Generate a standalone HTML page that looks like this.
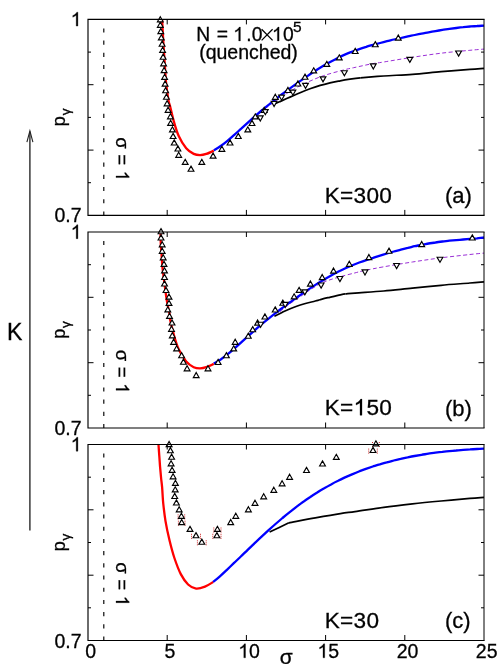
<!DOCTYPE html>
<html><head><meta charset="utf-8"><title>p_gamma vs sigma</title>
<style>
html,body{margin:0;padding:0;background:#fff;}
body{width:498px;height:664px;overflow:hidden;position:relative;font-family:"Liberation Sans",sans-serif;}
</style></head><body>
<svg width="498" height="664" viewBox="0 0 498 664" style="position:absolute;left:0;top:0">
<rect x="0" y="0" width="498" height="664" fill="#fff"/>
<g>
<clipPath id="cp0"><rect x="88.0" y="13.4" width="396.0" height="208.0"/></clipPath>
<path d="M103.8 28.4 V215.4" stroke="#000" stroke-width="1.15" stroke-dasharray="4.1 8.1" fill="none"/>
<path d="M275.1 103.8 C275.9 103.4 277.5 102.7 280.0 101.6 C282.5 100.5 286.6 98.6 290.0 97.1 C293.4 95.6 296.8 94.1 300.1 92.7 C303.4 91.3 306.6 90.0 310.0 88.8 C313.4 87.6 316.9 86.4 320.2 85.4 C323.5 84.4 326.7 83.6 330.0 82.8 C333.3 82.0 336.9 81.4 340.2 80.8 C343.5 80.2 346.6 79.7 350.0 79.2 C353.4 78.7 358.6 78.0 360.3 77.8" stroke="#000" stroke-width="1.7" fill="none" stroke-linejoin="round"/>
<path d="M360.3 77.8 C364.2 77.5 375.0 76.6 383.7 76.0 C392.4 75.4 402.8 75.0 412.4 74.3 C422.0 73.6 431.5 72.5 441.1 71.7 C450.7 70.9 462.8 70.0 469.9 69.4 C477.0 68.8 481.6 68.5 484.0 68.3" stroke="#000" stroke-width="1.7" fill="none" stroke-linejoin="round"/>
<path d="M245.2 125.5 C246.5 124.3 250.2 120.8 253.2 118.2 C256.2 115.7 259.7 112.9 263.1 110.2 C266.6 107.5 270.8 104.4 273.9 102.2 C276.9 100.0 278.3 99.1 281.4 97.0 C284.5 94.9 288.7 92.1 292.7 89.8 C296.7 87.5 300.2 85.5 305.3 83.2 C310.4 80.9 316.7 78.0 323.2 75.8 C329.7 73.6 339.0 71.2 344.3 69.8 C349.6 68.4 350.3 68.4 355.0 67.4 C359.7 66.4 367.6 64.6 372.4 63.7 C377.2 62.8 377.0 63.1 383.7 62.0 C390.4 60.9 402.8 58.8 412.4 57.3 C422.0 55.8 431.5 54.4 441.1 53.2 C450.7 52.0 462.8 51.0 469.9 50.3 C477.0 49.6 481.6 49.3 484.0 49.1" stroke="#9a2fd6" stroke-width="1" stroke-dasharray="4 2.5" fill="none"/>
<path d="M213.8 150.3 C215.0 149.6 218.4 147.7 220.7 146.0 C223.0 144.4 225.3 142.5 227.7 140.6 C230.0 138.7 232.3 136.6 234.6 134.6 C236.9 132.6 239.2 130.4 241.5 128.4 C243.8 126.3 246.1 124.2 248.4 122.1 C250.8 120.0 253.1 117.9 255.4 115.9 C257.7 113.9 260.0 111.9 262.3 110.0 C264.6 108.0 266.9 106.1 269.2 104.3 C271.5 102.4 273.8 100.6 276.2 98.8 C278.5 97.0 280.8 95.3 283.1 93.5 C285.4 91.8 287.7 90.1 290.0 88.4 C292.3 86.7 294.6 85.0 296.9 83.4 C299.2 81.7 301.6 80.1 303.9 78.5 C306.2 76.9 308.5 75.4 310.8 73.8 C313.1 72.3 315.4 70.8 317.7 69.3 C320.0 67.9 322.3 66.5 324.7 65.1 C327.0 63.8 329.3 62.4 331.6 61.2 C333.9 60.0 336.2 58.8 338.5 57.6 C340.8 56.5 343.1 55.4 345.4 54.4 C347.7 53.4 350.1 52.5 352.4 51.6 C354.7 50.7 357.0 49.9 359.3 49.1 C361.6 48.3 363.9 47.6 366.2 46.9 C368.5 46.1 370.8 45.5 373.1 44.8 C375.5 44.2 377.8 43.6 380.1 43.0 C382.4 42.4 384.7 41.8 387.0 41.2 C389.3 40.6 391.6 40.1 393.9 39.5 C396.2 39.0 398.6 38.5 400.9 38.0 C403.2 37.4 405.5 36.9 407.8 36.4 C410.1 35.9 412.4 35.5 414.7 35.0 C417.0 34.5 419.3 34.0 421.6 33.6 C424.0 33.2 426.3 32.7 428.6 32.3 C430.9 31.9 433.2 31.5 435.5 31.1 C437.8 30.7 440.1 30.3 442.4 29.9 C444.7 29.6 447.0 29.2 449.4 28.9 C451.7 28.6 454.0 28.3 456.3 28.0 C458.6 27.7 460.9 27.4 463.2 27.2 C465.5 26.9 467.8 26.7 470.1 26.5 C472.5 26.3 474.8 26.1 477.1 26.0 C479.4 25.8 482.8 25.7 484.0 25.6" stroke="#0000ff" stroke-width="2.3" fill="none"/>
<path d="M162.1 19.3 C162.3 22.8 162.8 33.2 163.2 40.0 C163.6 46.8 164.0 52.8 164.5 60.0 C165.0 67.2 165.4 76.3 166.1 83.0 C166.8 89.7 167.8 96.2 168.4 100.0 C169.0 103.8 169.0 102.1 169.9 105.5 C170.8 108.9 172.2 115.5 173.6 120.6 C175.0 125.6 176.5 131.2 178.6 135.8 C180.7 140.4 183.7 145.3 186.2 148.3 C188.7 151.3 191.4 152.8 193.7 153.9 C196.0 155.0 197.9 155.1 200.0 155.1 C202.1 155.1 204.0 154.7 206.3 153.9 C208.6 153.2 212.6 151.2 213.8 150.6" stroke="#ff0000" stroke-width="2.3" fill="none"/>
<path d="M160.3 16.7 L163.2 21.8 L157.4 21.8 Z M160.3 22.2 L163.2 27.3 L157.4 27.3 Z M160.8 28.5 L163.7 33.6 L157.9 33.6 Z M161.3 34.8 L164.2 39.9 L158.4 39.9 Z M162.1 41.1 L165.0 46.2 L159.2 46.2 Z M162.6 47.3 L165.5 52.4 L159.7 52.4 Z M163.1 54.1 L166.0 59.2 L160.2 59.2 Z M163.6 60.7 L166.5 65.8 L160.7 65.8 Z M164.1 67.5 L167.0 72.6 L161.2 72.6 Z M164.6 74.3 L167.5 79.4 L161.7 79.4 Z M165.1 81.0 L168.0 86.1 L162.2 86.1 Z M165.6 87.6 L168.5 92.7 L162.7 92.7 Z M166.4 94.1 L169.3 99.2 L163.5 99.2 Z M167.1 100.7 L170.0 105.8 L164.2 105.8 Z M168.1 107.2 L171.0 112.3 L165.2 112.3 Z M170.4 113.7 L173.3 118.8 L167.5 118.8 Z M170.6 120.3 L173.5 125.4 L167.7 125.4 Z M172.4 126.8 L175.3 131.9 L169.5 131.9 Z M173.1 133.4 L176.0 138.5 L170.2 138.5 Z M174.2 139.9 L177.1 145.0 L171.3 145.0 Z M177.9 145.9 L180.8 151.0 L175.0 151.0 Z M178.7 152.2 L181.6 157.3 L175.8 157.3 Z M185.2 159.3 L188.1 164.4 L182.3 164.4 Z M191.0 166.1 L193.9 171.2 L188.1 171.2 Z M201.8 159.3 L204.7 164.4 L198.9 164.4 Z M213.1 153.0 L216.0 158.1 L210.2 158.1 Z M221.9 146.2 L224.8 151.3 L219.0 151.3 Z M230.0 139.9 L232.9 145.0 L227.1 145.0 Z M238.3 133.4 L241.2 138.5 L235.4 138.5 Z M247.8 126.8 L250.7 131.9 L244.9 131.9 Z M252.0 120.4 L254.9 125.5 L249.1 125.5 Z M255.3 113.8 L258.2 118.9 L252.4 118.9 Z M264.2 107.4 L267.1 112.5 L261.3 112.5 Z M275.3 94.2 L278.2 99.3 L272.4 99.3 Z M287.9 87.4 L290.8 92.5 L285.0 92.5 Z M297.9 80.9 L300.8 86.0 L295.0 86.0 Z M305.0 74.1 L307.9 79.2 L302.1 79.2 Z M313.7 67.8 L316.6 72.9 L310.8 72.9 Z M326.8 61.3 L329.7 66.4 L323.9 66.4 Z M339.3 54.8 L342.2 59.9 L336.4 59.9 Z M355.2 48.4 L358.1 53.5 L352.3 53.5 Z M375.3 41.6 L378.2 46.7 L372.4 46.7 Z M398.3 35.0 L401.2 40.1 L395.4 40.1 Z" stroke="#000" stroke-width="1.15" fill="#fff" stroke-linejoin="miter"/>
<path d="M260.3 121.0 L263.2 115.9 L257.4 115.9 Z M265.3 114.7 L268.2 109.6 L262.4 109.6 Z M274.1 106.5 L277.0 101.4 L271.2 101.4 Z M281.6 100.2 L284.5 95.1 L278.7 95.1 Z M292.9 95.2 L295.8 90.1 L290.0 90.1 Z M305.5 88.4 L308.4 83.3 L302.6 83.3 Z M323.0 81.9 L325.9 76.8 L320.1 76.8 Z M344.4 75.8 L347.3 70.7 L341.5 70.7 Z M373.3 69.0 L376.2 63.9 L370.4 63.9 Z M409.8 62.4 L412.7 57.3 L406.9 57.3 Z M458.6 56.1 L461.5 51.0 L455.7 51.0 Z" stroke="#000" stroke-width="1.15" fill="#fff" stroke-linejoin="miter"/>
<path d="M484.0 19.4 H88.0 V215.4 H484.0" fill="none" stroke="#000" stroke-width="1.15" stroke-linecap="square"/>
<path d="M484.0 19.4 V215.4" fill="none" stroke="#000" stroke-width="1.0"/>
<path d="M167.2 215.4 v-5.5 M167.2 19.4 v5 M246.4 215.4 v-5.5 M246.4 19.4 v5 M325.6 215.4 v-5.5 M325.6 19.4 v5 M404.8 215.4 v-5.5 M404.8 19.4 v5 M88.0 52.1 h3.0 M484.0 52.1 h-3.0 M88.0 84.7 h5.5 M484.0 84.7 h-5.5 M88.0 117.4 h3.0 M484.0 117.4 h-3.0 M88.0 150.1 h5.5 M484.0 150.1 h-5.5 M88.0 182.7 h3.0 M484.0 182.7 h-3.0" stroke="#000" stroke-width="1.0" fill="none"/>
</g>
<g>
<clipPath id="cp1"><rect x="88.0" y="226.0" width="396.0" height="208.0"/></clipPath>
<path d="M103.8 241.0 V428.0" stroke="#000" stroke-width="1.15" stroke-dasharray="4.1 8.1" fill="none"/>
<path d="M274.4 316.3 C275.7 315.6 279.4 313.7 282.0 312.4 C284.6 311.1 286.7 310.0 290.2 308.7 C293.7 307.4 298.6 305.6 302.8 304.3 C307.0 303.0 312.4 301.8 315.3 301.0 C318.2 300.2 317.9 300.4 320.0 299.8 C322.1 299.2 324.5 298.5 327.9 297.7 C331.3 296.9 337.5 295.4 340.4 294.8 C343.3 294.2 344.6 294.0 345.4 293.9" stroke="#000" stroke-width="1.7" fill="none" stroke-linejoin="round"/>
<path d="M345.4 293.9 C347.0 293.8 348.6 293.6 355.0 293.1 C361.4 292.6 374.1 291.8 383.7 291.0 C393.3 290.2 402.8 289.1 412.4 288.2 C422.0 287.2 431.5 286.2 441.1 285.3 C450.7 284.4 462.8 283.6 469.9 283.0 C477.0 282.4 481.6 282.1 484.0 281.9" stroke="#000" stroke-width="1.7" fill="none" stroke-linejoin="round"/>
<path d="M280.0 311.6 C281.7 310.3 286.7 306.2 290.0 303.7 C293.3 301.2 296.7 299.1 300.0 296.8 C303.3 294.5 306.5 292.1 310.0 289.9 C313.5 287.6 317.8 285.0 321.1 283.3 C324.4 281.6 326.8 280.9 330.0 279.8 C333.2 278.7 336.1 277.9 340.3 276.7 C344.5 275.5 350.9 273.9 355.0 272.9 C359.1 271.8 360.4 271.4 365.2 270.4 C370.0 269.4 375.8 268.2 383.7 266.8 C391.6 265.4 402.8 263.5 412.4 262.0 C422.0 260.5 431.5 259.1 441.1 257.8 C450.7 256.6 462.8 255.3 469.9 254.5 C477.0 253.7 481.6 253.3 484.0 253.1" stroke="#9a2fd6" stroke-width="1" stroke-dasharray="4 2.5" fill="none"/>
<path d="M213.8 363.6 C215.0 362.9 218.4 361.0 220.7 359.5 C223.0 357.9 225.3 356.1 227.7 354.2 C230.0 352.3 232.3 350.3 234.6 348.3 C236.9 346.3 239.2 344.2 241.5 342.1 C243.8 340.0 246.1 337.9 248.4 335.8 C250.8 333.7 253.1 331.7 255.4 329.7 C257.7 327.6 260.0 325.7 262.3 323.7 C264.6 321.8 266.9 319.9 269.2 318.1 C271.5 316.2 273.8 314.4 276.2 312.6 C278.5 310.9 280.8 309.1 283.1 307.4 C285.4 305.7 287.7 304.0 290.0 302.3 C292.3 300.7 294.6 299.0 296.9 297.4 C299.2 295.8 301.6 294.1 303.9 292.6 C306.2 291.0 308.5 289.4 310.8 287.9 C313.1 286.4 315.4 284.9 317.7 283.4 C320.0 282.0 322.3 280.5 324.7 279.2 C327.0 277.8 329.3 276.5 331.6 275.2 C333.9 273.9 336.2 272.7 338.5 271.5 C340.8 270.4 343.1 269.3 345.4 268.2 C347.7 267.2 350.1 266.2 352.4 265.2 C354.7 264.3 357.0 263.4 359.3 262.5 C361.6 261.7 363.9 260.9 366.2 260.1 C368.5 259.3 370.8 258.5 373.1 257.8 C375.5 257.0 377.8 256.3 380.1 255.6 C382.4 254.9 384.7 254.2 387.0 253.5 C389.3 252.8 391.6 252.1 393.9 251.5 C396.2 250.9 398.6 250.2 400.9 249.6 C403.2 249.0 405.5 248.4 407.8 247.9 C410.1 247.3 412.4 246.8 414.7 246.2 C417.0 245.7 419.3 245.3 421.6 244.8 C424.0 244.4 426.3 243.9 428.6 243.5 C430.9 243.2 433.2 242.8 435.5 242.5 C437.8 242.1 440.1 241.8 442.4 241.5 C444.7 241.2 447.0 241.0 449.4 240.7 C451.7 240.5 454.0 240.3 456.3 240.1 C458.6 239.9 460.9 239.7 463.2 239.5 C465.5 239.3 467.8 239.1 470.1 238.9 C472.5 238.7 474.8 238.5 477.1 238.3 C479.4 238.0 482.8 237.7 484.0 237.5" stroke="#0000ff" stroke-width="2.3" fill="none"/>
<path d="M160.5 232.0 C160.6 233.9 160.6 239.8 160.8 243.6 C161.0 247.4 161.3 251.2 161.6 255.0 C161.9 258.9 162.1 263.4 162.4 266.7 C162.7 270.0 163.1 272.3 163.4 275.0 C163.7 277.7 163.9 279.3 164.4 282.9 C164.9 286.5 165.6 292.4 166.2 296.5 C166.8 300.6 167.5 304.4 168.1 307.3 C168.7 310.2 169.2 311.9 169.5 313.8 C169.8 315.7 169.2 315.5 169.9 318.8 C170.6 322.1 172.2 328.8 173.6 333.9 C175.0 338.9 176.5 344.5 178.6 349.1 C180.7 353.7 183.7 358.6 186.2 361.6 C188.7 364.6 191.4 366.1 193.7 367.2 C196.0 368.3 197.9 368.4 200.0 368.4 C202.1 368.4 204.0 368.0 206.3 367.2 C208.6 366.5 212.6 364.4 213.8 363.9" stroke="#ff0000" stroke-width="2.3" fill="none"/>
<path d="M161.0 228.6 L163.9 233.7 L158.1 233.7 Z M161.0 234.9 L163.9 240.0 L158.1 240.0 Z M162.2 241.7 L165.1 246.8 L159.3 246.8 Z M162.2 248.2 L165.1 253.3 L159.3 253.3 Z M163.2 254.7 L166.1 259.8 L160.3 259.8 Z M164.0 261.3 L166.9 266.4 L161.1 266.4 Z M164.5 267.8 L167.4 272.9 L161.6 272.9 Z M164.5 274.4 L167.4 279.5 L161.6 279.5 Z M164.5 280.9 L167.4 286.0 L161.6 286.0 Z M166.0 287.4 L168.9 292.5 L163.1 292.5 Z M169.0 294.0 L171.9 299.1 L166.1 299.1 Z M169.0 300.3 L171.9 305.4 L166.1 305.4 Z M167.8 306.8 L170.7 311.9 L164.9 311.9 Z M169.5 313.3 L172.4 318.4 L166.6 318.4 Z M172.0 319.9 L174.9 325.0 L169.1 325.0 Z M171.5 326.2 L174.4 331.3 L168.6 331.3 Z M172.3 332.7 L175.2 337.8 L169.4 337.8 Z M173.6 339.2 L176.5 344.3 L170.7 344.3 Z M176.6 345.8 L179.5 350.9 L173.7 350.9 Z M181.6 352.6 L184.5 357.7 L178.7 357.7 Z M183.4 359.1 L186.3 364.2 L180.5 364.2 Z M187.1 365.7 L190.0 370.8 L184.2 370.8 Z M196.2 372.5 L199.1 377.6 L193.3 377.6 Z M208.0 365.7 L210.9 370.8 L205.1 370.8 Z M218.1 359.4 L221.0 364.5 L215.2 364.5 Z M226.4 352.6 L229.3 357.7 L223.5 357.7 Z M233.7 345.8 L236.6 350.9 L230.8 350.9 Z M235.2 339.2 L238.1 344.3 L232.3 344.3 Z M248.3 333.1 L251.2 338.2 L245.4 338.2 Z M252.7 326.6 L255.6 331.7 L249.8 331.7 Z M257.6 320.0 L260.5 325.1 L254.7 325.1 Z M264.9 313.9 L267.8 319.0 L262.0 319.0 Z M275.2 306.9 L278.1 312.0 L272.3 312.0 Z M282.8 300.1 L285.7 305.2 L279.9 305.2 Z M294.1 293.8 L297.0 298.9 L291.2 298.9 Z M299.1 287.3 L302.0 292.4 L296.2 292.4 Z M310.4 281.0 L313.3 286.1 L307.5 286.1 Z M322.2 274.5 L325.1 279.6 L319.3 279.6 Z M333.5 268.0 L336.4 273.1 L330.6 273.1 Z M349.3 261.2 L352.2 266.3 L346.4 266.3 Z M368.9 254.5 L371.8 259.6 L366.0 259.6 Z M389.0 248.1 L391.9 253.2 L386.1 253.2 Z M421.7 241.5 L424.6 246.6 L418.8 246.6 Z M472.3 234.9 L475.2 240.0 L469.4 240.0 Z" stroke="#000" stroke-width="1.15" fill="#fff" stroke-linejoin="miter"/>
<path d="M260.6 327.3 L263.5 322.2 L257.7 322.2 Z M285.2 307.5 L288.1 302.4 L282.3 302.4 Z M304.8 294.9 L307.7 289.8 L301.9 289.8 Z M321.1 288.1 L324.0 283.0 L318.2 283.0 Z M339.9 281.6 L342.8 276.5 L337.0 276.5 Z M365.0 275.0 L367.9 269.9 L362.1 269.9 Z M396.6 268.6 L399.5 263.5 L393.7 263.5 Z M440.0 262.3 L442.9 257.2 L437.1 257.2 Z" stroke="#000" stroke-width="1.15" fill="#fff" stroke-linejoin="miter"/>
<path d="M484.0 232.0 H88.0 V428.0 H484.0" fill="none" stroke="#000" stroke-width="1.15" stroke-linecap="square"/>
<path d="M484.0 232.0 V428.0" fill="none" stroke="#000" stroke-width="1.0"/>
<path d="M167.2 428.0 v-5.5 M167.2 232.0 v5 M246.4 428.0 v-5.5 M246.4 232.0 v5 M325.6 428.0 v-5.5 M325.6 232.0 v5 M404.8 428.0 v-5.5 M404.8 232.0 v5 M88.0 264.7 h3.0 M484.0 264.7 h-3.0 M88.0 297.3 h5.5 M484.0 297.3 h-5.5 M88.0 330.0 h3.0 M484.0 330.0 h-3.0 M88.0 362.7 h5.5 M484.0 362.7 h-5.5 M88.0 395.3 h3.0 M484.0 395.3 h-3.0" stroke="#000" stroke-width="1.0" fill="none"/>
</g>
<g>
<clipPath id="cp2"><rect x="88.0" y="438.5" width="396.0" height="208.0"/></clipPath>
<path d="M103.8 453.5 V640.5" stroke="#000" stroke-width="1.15" stroke-dasharray="4.1 8.1" fill="none"/>
<path d="M269.6 532.1 C272.8 530.5 285.7 524.3 288.9 522.8" stroke="#000" stroke-width="1.7" fill="none" stroke-linejoin="round"/>
<path d="M288.9 522.8 C293.3 522.0 306.7 519.3 315.3 517.8 C323.9 516.3 333.8 514.6 340.4 513.6 C347.0 512.6 347.8 512.6 355.0 511.6 C362.2 510.6 374.1 508.7 383.7 507.4 C393.3 506.1 402.8 505.0 412.4 503.9 C422.0 502.8 431.5 501.9 441.1 501.0 C450.7 500.1 462.8 499.0 469.9 498.4 C477.0 497.8 481.6 497.5 484.0 497.3" stroke="#000" stroke-width="1.7" fill="none" stroke-linejoin="round"/>
<path d="M213.0 582.1 C214.2 581.1 217.6 578.4 219.9 576.3 C222.3 574.3 224.6 572.0 226.9 569.8 C229.2 567.6 231.5 565.4 233.8 563.2 C236.2 561.0 238.5 558.7 240.8 556.5 C243.1 554.3 245.4 552.0 247.7 549.8 C250.1 547.6 252.4 545.3 254.7 543.1 C257.0 540.9 259.3 538.7 261.6 536.6 C264.0 534.4 266.3 532.3 268.6 530.2 C270.9 528.1 273.2 526.0 275.5 524.0 C277.9 522.0 280.2 520.0 282.5 518.0 C284.8 516.1 287.1 514.2 289.4 512.3 C291.8 510.5 294.1 508.7 296.4 506.9 C298.7 505.2 301.0 503.4 303.3 501.8 C305.6 500.1 308.0 498.5 310.3 497.0 C312.6 495.4 314.9 493.9 317.2 492.5 C319.5 491.0 321.9 489.6 324.2 488.3 C326.5 486.9 328.8 485.6 331.1 484.4 C333.4 483.1 335.8 481.9 338.1 480.8 C340.4 479.6 342.7 478.5 345.0 477.4 C347.3 476.4 349.7 475.4 352.0 474.4 C354.3 473.4 356.6 472.4 358.9 471.5 C361.2 470.6 363.6 469.8 365.9 468.9 C368.2 468.1 370.5 467.3 372.8 466.5 C375.1 465.8 377.5 465.0 379.8 464.4 C382.1 463.7 384.4 463.0 386.7 462.4 C389.0 461.7 391.4 461.1 393.7 460.5 C396.0 459.9 398.3 459.4 400.6 458.9 C402.9 458.3 405.2 457.8 407.6 457.4 C409.9 456.9 412.2 456.4 414.5 456.0 C416.8 455.6 419.1 455.2 421.5 454.8 C423.8 454.4 426.1 454.1 428.4 453.7 C430.7 453.4 433.0 453.0 435.4 452.7 C437.7 452.4 440.0 452.1 442.3 451.9 C444.6 451.6 446.9 451.3 449.3 451.1 C451.6 450.9 453.9 450.7 456.2 450.5 C458.5 450.2 460.8 450.1 463.2 449.9 C465.5 449.7 467.8 449.5 470.1 449.4 C472.4 449.2 474.7 449.1 477.1 449.0 C479.4 448.9 482.8 448.7 484.0 448.7" stroke="#0000ff" stroke-width="2.3" fill="none"/>
<path d="M158.5 444.5 C158.6 446.4 159.0 452.2 159.3 456.0 C159.6 459.8 159.8 463.6 160.1 467.1 C160.4 470.6 160.7 473.6 161.0 477.0 C161.3 480.4 161.7 482.7 162.1 487.2 C162.5 491.7 162.7 498.4 163.3 504.0 C163.9 509.6 164.5 515.1 165.5 521.1 C166.5 527.1 168.0 534.1 169.5 540.3 C171.0 546.4 172.5 552.4 174.4 558.0 C176.3 563.6 178.5 569.7 180.8 574.1 C183.1 578.5 185.6 582.1 188.1 584.5 C190.6 586.9 193.3 588.2 196.1 588.6 C198.9 589.0 202.2 587.7 205.0 586.6 C207.8 585.5 211.7 582.9 213.0 582.1" stroke="#ff0000" stroke-width="2.3" fill="none"/>
<path d="M191.5 533.8 v5.2 M200.5 533.8 v5.2 M197.4 540.3 v5.2 M206.2 540.3 v5.2 M212.8 533.8 v5.2 M221.0 533.8 v5.2 M213.8 527.5 v5.2 M221.0 527.5 v5.2 M178.1 514.4 v5.2 M184.7 514.4 v5.2 M178.4 520.7 v5.2 M185.0 520.7 v5.2 M368.7 448.6 v5.2 M377.3 448.6 v5.2 M372.5 442.0 v5.2 M379.3 442.0 v5.2" stroke="#c81010" stroke-width="0.9" stroke-dasharray="1 1" fill="none"/>
<path d="M169.1 441.5 L172.0 446.6 L166.2 446.6 Z M170.4 447.6 L173.3 452.7 L167.5 452.7 Z M171.6 454.1 L174.5 459.2 L168.7 459.2 Z M171.1 460.7 L174.0 465.8 L168.2 465.8 Z M172.1 467.2 L175.0 472.3 L169.2 472.3 Z M173.1 473.7 L176.0 478.8 L170.2 478.8 Z M175.4 480.3 L178.3 485.4 L172.5 485.4 Z M175.2 486.8 L178.1 491.9 L172.3 491.9 Z M174.7 493.4 L177.6 498.5 L171.8 498.5 Z M176.4 499.9 L179.3 505.0 L173.5 505.0 Z M179.2 506.7 L182.1 511.8 L176.3 511.8 Z M181.4 513.2 L184.3 518.3 L178.5 518.3 Z M181.7 519.5 L184.6 524.6 L178.8 524.6 Z M190.0 526.3 L192.9 531.4 L187.1 531.4 Z M196.0 532.6 L198.9 537.7 L193.1 537.7 Z M201.8 539.1 L204.7 544.2 L198.9 544.2 Z M216.9 532.6 L219.8 537.7 L214.0 537.7 Z M217.4 526.3 L220.3 531.4 L214.5 531.4 Z M230.7 519.5 L233.6 524.6 L227.8 524.6 Z M235.8 513.2 L238.7 518.3 L232.9 518.3 Z M248.4 506.7 L251.3 511.8 L245.5 511.8 Z M255.0 500.2 L257.9 505.3 L252.1 505.3 Z M263.7 493.7 L266.6 498.8 L260.8 498.8 Z M273.8 487.2 L276.7 492.3 L270.9 492.3 Z M282.1 480.7 L285.0 485.8 L279.2 485.8 Z M289.6 474.2 L292.5 479.3 L286.7 479.3 Z M306.5 467.4 L309.4 472.5 L303.6 472.5 Z M322.5 460.9 L325.4 466.0 L319.6 466.0 Z M336.3 454.3 L339.2 459.4 L333.4 459.4 Z M373.0 447.4 L375.9 452.5 L370.1 452.5 Z M375.9 440.8 L378.8 445.9 L373.0 445.9 Z" stroke="#000" stroke-width="1.15" fill="#fff" stroke-linejoin="miter"/>
<path d="M484.0 444.5 H88.0 V640.5 H484.0" fill="none" stroke="#000" stroke-width="1.15" stroke-linecap="square"/>
<path d="M484.0 444.5 V640.5" fill="none" stroke="#000" stroke-width="1.0"/>
<path d="M167.2 640.5 v-5.5 M167.2 444.5 v5 M246.4 640.5 v-5.5 M246.4 444.5 v5 M325.6 640.5 v-5.5 M325.6 444.5 v5 M404.8 640.5 v-5.5 M404.8 444.5 v5 M88.0 477.2 h3.0 M484.0 477.2 h-3.0 M88.0 509.8 h5.5 M484.0 509.8 h-5.5 M88.0 542.5 h3.0 M484.0 542.5 h-3.0 M88.0 575.2 h5.5 M484.0 575.2 h-5.5 M88.0 607.8 h3.0 M484.0 607.8 h-3.0" stroke="#000" stroke-width="1.0" fill="none"/>
</g>
<path d="M29.9 530.6 V131.5" stroke="#222" stroke-width="1.35" fill="none"/>
<path d="M26.9 142.2 L29.9 130.9 L32.9 142.2" stroke="#222" stroke-width="1.1" fill="none" stroke-linejoin="miter"/>
<g style="opacity:0.999" stroke="#000" stroke-width="0.3">
<g transform="translate(81.50 26.10) translate(-10.85 0)"><path transform="translate(0.00 0) scale(0.00952 -0.00952)" d="M763 0H583V1147Q518 1085 412.5 1023T223 930V1104Q373 1174.5 485 1274.5T644 1466H763Z" fill="#000" stroke-width="31.5"/></g>
<text transform="translate(81.50 222.40)" font-size="19.50" text-anchor="end" font-family="Liberation Sans, sans-serif" fill="#000" >0.7</text>
<g transform="translate(81.50 238.70) translate(-10.85 0)"><path transform="translate(0.00 0) scale(0.00952 -0.00952)" d="M763 0H583V1147Q518 1085 412.5 1023T223 930V1104Q373 1174.5 485 1274.5T644 1466H763Z" fill="#000" stroke-width="31.5"/></g>
<text transform="translate(81.50 435.00)" font-size="19.50" text-anchor="end" font-family="Liberation Sans, sans-serif" fill="#000" >0.7</text>
<g transform="translate(81.50 451.20) translate(-10.85 0)"><path transform="translate(0.00 0) scale(0.00952 -0.00952)" d="M763 0H583V1147Q518 1085 412.5 1023T223 930V1104Q373 1174.5 485 1274.5T644 1466H763Z" fill="#000" stroke-width="31.5"/></g>
<text transform="translate(81.50 647.50)" font-size="19.50" text-anchor="end" font-family="Liberation Sans, sans-serif" fill="#000" >0.7</text>
<text transform="translate(90.70 657.80)" font-size="19.50" text-anchor="middle" font-family="Liberation Sans, sans-serif" fill="#000" >0</text>
<text transform="translate(169.90 657.80)" font-size="19.50" text-anchor="middle" font-family="Liberation Sans, sans-serif" fill="#000" >5</text>
<g transform="translate(249.10 657.80) translate(-10.85 0)"><path transform="translate(0.00 0) scale(0.00952 -0.00952)" d="M763 0H583V1147Q518 1085 412.5 1023T223 930V1104Q373 1174.5 485 1274.5T644 1466H763Z" fill="#000" stroke-width="31.5"/><text x="10.85" y="0" font-size="19.50" font-family="Liberation Sans, sans-serif" fill="#000">0</text></g>
<g transform="translate(328.30 657.80) translate(-10.85 0)"><path transform="translate(0.00 0) scale(0.00952 -0.00952)" d="M763 0H583V1147Q518 1085 412.5 1023T223 930V1104Q373 1174.5 485 1274.5T644 1466H763Z" fill="#000" stroke-width="31.5"/><text x="10.85" y="0" font-size="19.50" font-family="Liberation Sans, sans-serif" fill="#000">5</text></g>
<text transform="translate(407.50 657.80)" font-size="19.50" text-anchor="middle" font-family="Liberation Sans, sans-serif" fill="#000" >20</text>
<text transform="translate(486.70 657.80)" font-size="19.50" text-anchor="middle" font-family="Liberation Sans, sans-serif" fill="#000" >25</text>
<text transform="translate(286.30 663.60)" font-size="21.00" text-anchor="middle" font-family="Liberation Sans, sans-serif" fill="#000" >σ</text>
<text transform="translate(7.00 339.60) scale(0.980 1)" font-size="23.60" text-anchor="start" font-family="Liberation Sans, sans-serif" fill="#000" >K</text>
<text transform="translate(324.80 202.70)" font-size="22.60" text-anchor="start" font-family="Liberation Sans, sans-serif" letter-spacing="0.25" fill="#000" >K=300</text>
<text transform="translate(445.00 203.00)" font-size="22.00" text-anchor="start" font-family="Liberation Sans, sans-serif" fill="#000" >(a)</text>
<g transform="translate(324.80 415.30) translate(0.00 0)"><text x="0.00" y="0" font-size="22.60" font-family="Liberation Sans, sans-serif" letter-spacing="0.25" fill="#000">K=</text><path transform="translate(28.77 0) scale(0.01104 -0.01104)" d="M763 0H583V1147Q518 1085 412.5 1023T223 930V1104Q373 1174.5 485 1274.5T644 1466H763Z" fill="#000" stroke-width="27.2"/><text x="41.59" y="0" font-size="22.60" font-family="Liberation Sans, sans-serif" letter-spacing="0.25" fill="#000">50</text></g>
<text transform="translate(445.00 415.60)" font-size="22.00" text-anchor="start" font-family="Liberation Sans, sans-serif" fill="#000" >(b)</text>
<text transform="translate(324.80 627.80)" font-size="22.60" text-anchor="start" font-family="Liberation Sans, sans-serif" letter-spacing="0.25" fill="#000" >K=30</text>
<text transform="translate(445.00 628.10)" font-size="22.00" text-anchor="start" font-family="Liberation Sans, sans-serif" fill="#000" >(c)</text>
<text transform="translate(196.30 40.90)" font-size="19.30" text-anchor="start" font-family="Liberation Sans, sans-serif" fill="#000" >N</text>
<text transform="translate(216.80 40.90)" font-size="19.30" text-anchor="start" font-family="Liberation Sans, sans-serif" fill="#000" >=</text>
<g transform="translate(233.20 40.90) translate(0.00 0)"><path transform="translate(0.00 0) scale(0.00942 -0.00942)" d="M763 0H583V1147Q518 1085 412.5 1023T223 930V1104Q373 1174.5 485 1274.5T644 1466H763Z" fill="#000" stroke-width="31.8"/></g>
<text transform="translate(246.30 40.90)" font-size="19.30" text-anchor="start" font-family="Liberation Sans, sans-serif" fill="#000" >.0</text>
<path d="M261.6 29.3 L272.6 40.4 M272.6 29.3 L261.6 40.4" stroke="#000" stroke-width="1.3" fill="none"/>
<g transform="translate(271.90 40.90) translate(0.00 0)"><path transform="translate(0.00 0) scale(0.00942 -0.00942)" d="M763 0H583V1147Q518 1085 412.5 1023T223 930V1104Q373 1174.5 485 1274.5T644 1466H763Z" fill="#000" stroke-width="31.8"/></g>
<text transform="translate(283.00 40.90)" font-size="19.30" text-anchor="start" font-family="Liberation Sans, sans-serif" fill="#000" >0</text>
<text transform="translate(293.00 32.00)" font-size="15.50" text-anchor="start" font-family="Liberation Sans, sans-serif" fill="#000" >5</text>
<text transform="translate(248.50 59.00)" font-size="19.50" text-anchor="middle" font-family="Liberation Sans, sans-serif" fill="#000" >(quenched)</text>
<text transform="translate(65.3 117.4) rotate(-90)" font-size="18" text-anchor="middle" font-family="Liberation Sans, sans-serif" fill="#000">p<tspan dy="4.5" dx="0.8" font-size="13.5">γ</tspan></text>
<g transform="translate(116.00 137.20) rotate(90) translate(0.00 0)"><text x="0.00" y="0" font-size="18.50" font-family="Liberation Sans, sans-serif" letter-spacing="0.25" fill="#000">σ = </text><path transform="translate(33.50 0) scale(0.00903 -0.00903)" d="M763 0H583V1147Q518 1085 412.5 1023T223 930V1104Q373 1174.5 485 1274.5T644 1466H763Z" fill="#000" stroke-width="33.2"/></g>
<text transform="translate(65.3 330.0) rotate(-90)" font-size="18" text-anchor="middle" font-family="Liberation Sans, sans-serif" fill="#000">p<tspan dy="4.5" dx="0.8" font-size="13.5">γ</tspan></text>
<g transform="translate(116.00 349.80) rotate(90) translate(0.00 0)"><text x="0.00" y="0" font-size="18.50" font-family="Liberation Sans, sans-serif" letter-spacing="0.25" fill="#000">σ = </text><path transform="translate(33.50 0) scale(0.00903 -0.00903)" d="M763 0H583V1147Q518 1085 412.5 1023T223 930V1104Q373 1174.5 485 1274.5T644 1466H763Z" fill="#000" stroke-width="33.2"/></g>
<text transform="translate(65.3 542.5) rotate(-90)" font-size="18" text-anchor="middle" font-family="Liberation Sans, sans-serif" fill="#000">p<tspan dy="4.5" dx="0.8" font-size="13.5">γ</tspan></text>
<g transform="translate(116.00 562.30) rotate(90) translate(0.00 0)"><text x="0.00" y="0" font-size="18.50" font-family="Liberation Sans, sans-serif" letter-spacing="0.25" fill="#000">σ = </text><path transform="translate(33.50 0) scale(0.00903 -0.00903)" d="M763 0H583V1147Q518 1085 412.5 1023T223 930V1104Q373 1174.5 485 1274.5T644 1466H763Z" fill="#000" stroke-width="33.2"/></g>
</g>
</svg>
</body></html>
